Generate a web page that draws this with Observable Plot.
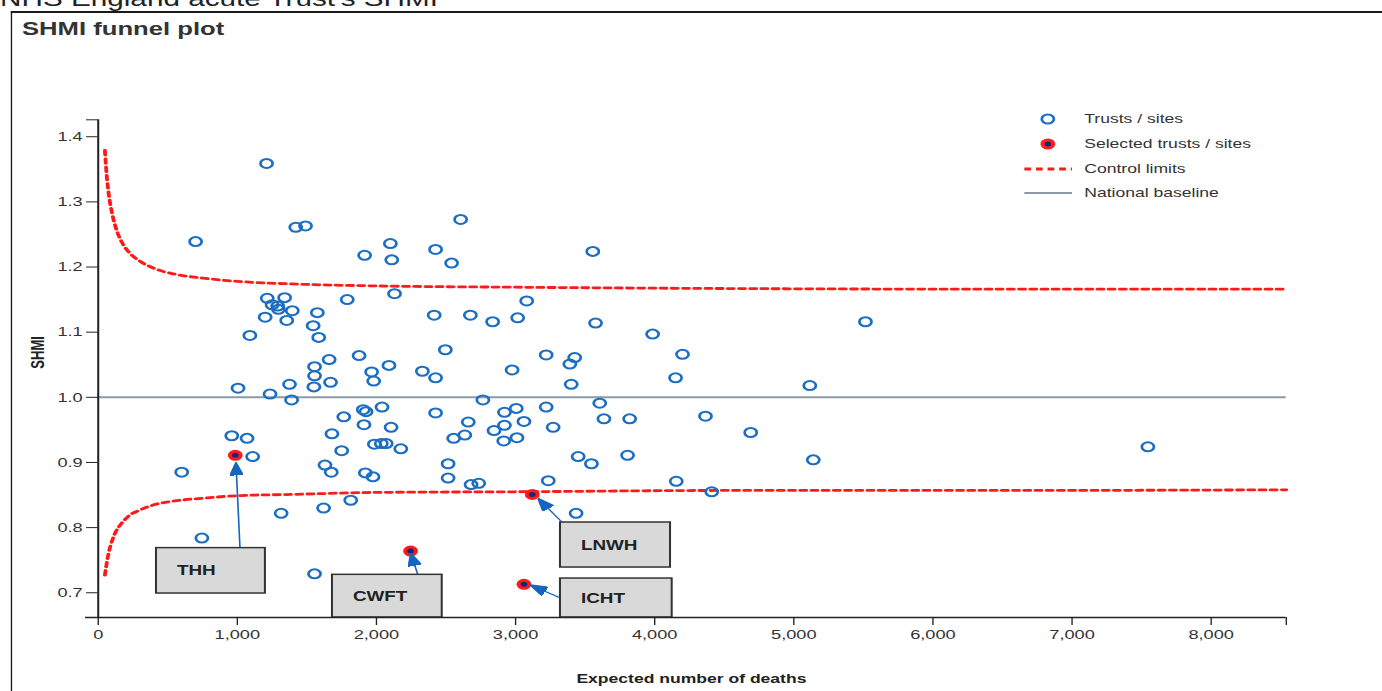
<!DOCTYPE html>
<html>
<head>
<meta charset="utf-8">
<script src="https://cdn.jsdelivr.net/npm/d3@7"></script>
<script src="https://cdn.jsdelivr.net/npm/@observablehq/plot@0.6"></script>
<style>
  html, body { margin: 0; padding: 0; background: #fff; overflow: hidden; }
  body { width: 1382px; height: 691px; position: relative; font-family: "Liberation Sans", Arial, sans-serif; }
  #page { position: absolute; left: 0; top: 0; width: 1024px; height: 691px; transform: scaleX(1.3496); transform-origin: 0 0; }
  #heading { position: absolute; left: 0; top: -12px; font-size: 22px; line-height: 22px; color: #222; white-space: nowrap; }
  #chart { position: absolute; left: 0; top: 0; }
  #frame { position: absolute; left: 8px; top: 11px; width: 1100px; height: 800px; border-top: 2px solid #1a1a1a; border-left: 1.5px solid #1a1a1a; box-sizing: border-box; }
  #title { position: absolute; left: 16.3px; top: 19px; font-size: 19px; line-height: 19px; font-weight: bold; color: #333; white-space: nowrap; }
  .lg-sym { position: absolute; left: 758.8px; width: 36px; height: 14px; overflow: visible; }
  .lg-txt { position: absolute; left: 803.4px; font-size: 13px; line-height: 14px; color: #333; white-space: nowrap; }
</style>
</head>
<body>
<div id="page">
  <div id="heading">NHS England acute Trust's SHMI</div>
  <div id="chart"></div>
  <div id="frame"></div>
  <div id="title">SHMI funnel plot</div>
  <svg class="lg-sym" style="top:112.3px" viewBox="0 0 36 14"><circle cx="17.4" cy="7" r="4.5" fill="none" stroke="#1b6ec2" stroke-width="2"/></svg>
  <div class="lg-txt" style="top:112.3px">Trusts / sites</div>
  <svg class="lg-sym" style="top:137px" viewBox="0 0 36 14"><circle cx="17.4" cy="7" r="4" fill="#14287a" stroke="#ff2020" stroke-width="3"/></svg>
  <div class="lg-txt" style="top:137px">Selected trusts / sites</div>
  <svg class="lg-sym" style="top:161.5px" viewBox="0 0 36 14"><line x1="0" x2="35.3" y1="7" y2="7" stroke="#ff1a1a" stroke-width="3" stroke-dasharray="5,3.6"/></svg>
  <div class="lg-txt" style="top:161.5px">Control limits</div>
  <svg class="lg-sym" style="top:186.3px" viewBox="0 0 36 14"><line x1="0" x2="35.3" y1="7" y2="7" stroke="#8d9aa5" stroke-width="2"/></svg>
  <div class="lg-txt" style="top:186.3px">National baseline</div>
</div>
<script>
// ---------- data ----------
const trustsE = [1210,1420,1490,700,1915,2100,2110,2425,1790,2130,2415,1215,1340,1250,1290,1295,1395,1200,1355,1575,1545,1090,1585,
  2605,2540,3555,3080,2675,2835,3015,3575,3985,
  1660,1555,1555,1550,1670,1375,1005,1235,1390,1875,1965,1980,2090,2330,2425,2495,1765,1905,1925,2040,1910,2105,1680,960,1070,
  1985,2035,2070,2175,1750,1110,1630,1675,1920,1975,600,1815,1620,1315,2425,
  3220,3425,3390,2975,3400,4200,4150,2765,2920,3005,3220,3605,2660,3060,2920,2845,3635,3820,2635,2555,3010,2915,3270,
  2515,3450,3545,3805,2515,2680,2735,3235,4155,3435,
  5515,5115,4365,4690,5140,4410,7545,745,1555];
const trustsSHMI = [1.359,1.261,1.263,1.239,1.218,1.236,1.211,1.227,1.150,1.159,1.126,1.152,1.153,1.142,1.140,1.135,1.133,1.123,1.118,1.130,1.110,1.095,1.092,
  1.273,1.206,1.224,1.148,1.126,1.116,1.122,1.114,1.097,
  1.058,1.047,1.033,1.016,1.023,1.020,1.014,1.005,0.996,1.064,1.039,1.025,1.049,1.040,1.030,1.073,0.970,0.981,0.978,0.985,0.958,0.954,0.944,0.941,0.937,
  0.928,0.929,0.929,0.921,0.918,0.909,0.896,0.885,0.884,0.878,0.885,0.842,0.830,0.822,0.976,
  1.065,1.061,1.051,1.042,1.020,1.066,1.030,0.996,0.977,0.983,0.985,0.991,0.962,0.963,0.957,0.949,0.967,0.967,0.942,0.937,0.938,0.933,0.954,
  0.898,0.909,0.898,0.911,0.876,0.866,0.868,0.872,0.871,0.822,
  1.116,1.018,0.971,0.946,0.904,0.855,0.924,0.784,0.729];

const selectedNames = ["THH", "CWFT", "LNWH", "ICHT"];
const selectedE = [985, 2245, 3120, 3060];
const selectedSHMI = [0.911, 0.764, 0.851, 0.713];

const limitE = [48, 60, 75, 100, 130, 170, 220, 300, 400, 550, 750, 1000, 1400, 2000, 3000, 4500, 6500, 8540];
const upperLimit = [1.379, 1.343, 1.313, 1.282, 1.258, 1.238, 1.223, 1.209, 1.198, 1.189, 1.183, 1.178, 1.174, 1.171, 1.169, 1.167, 1.166, 1.166];
const lowerLimit = [0.727, 0.744, 0.761, 0.780, 0.795, 0.807, 0.818, 0.827, 0.835, 0.841, 0.845, 0.849, 0.851, 0.854, 0.855, 0.857, 0.857, 0.858];

const nationalBaseline = 1.0;

const xTicks = [0, 1000, 2000, 3000, 4000, 5000, 6000, 7000, 8000];
const yTicks = [0.7, 0.8, 0.9, 1.0, 1.1, 1.2, 1.3, 1.4];
const xDomain = [-90, 8540];
const yDomain = [0.662, 1.426];

// annotation callouts (data units)
const calloutLabels = ["THH", "CWFT", "LNWH", "ICHT"];
const calloutBoxE1 = [420, 1685, 3324, 3324];
const calloutBoxE2 = [1203, 2474, 4115, 4127];
const calloutBoxS1 = [0.6988, 0.662, 0.7387, 0.662];
const calloutBoxS2 = [0.7685, 0.7275, 0.8078, 0.7218];
const arrowFromE = [1019, 2298, 3331, 3324];
const arrowFromS = [0.7685, 0.7275, 0.809, 0.692];
const arrowToE = [990, 2246, 3161, 3104];
const arrowToS = [0.900, 0.761, 0.845, 0.712];

// ---------- tables ----------
const trusts = trustsE.map((e, i) => ({e, s: trustsSHMI[i]}));
const selected = selectedE.map((e, i) => ({name: selectedNames[i], e, s: selectedSHMI[i]}));
const upper = limitE.map((e, i) => ({e, s: upperLimit[i]}));
const lower = limitE.map((e, i) => ({e, s: lowerLimit[i]}));
const callouts = calloutLabels.map((label, i) => ({
  label,
  e1: calloutBoxE1[i], e2: calloutBoxE2[i], s1: calloutBoxS1[i], s2: calloutBoxS2[i],
  sm: (calloutBoxS1[i] + calloutBoxS2[i]) / 2,
  fe: arrowFromE[i], fs: arrowFromS[i], te: arrowToE[i], ts: arrowToS[i]
}));

const BLUE = "#1b6ec2", RED = "#ff1a1a", NAVY = "#14287a", ARROW = "#1565c0", GREY = "#8d9aa5", AXIS = "#222";

function arrowHead(color, context) {
  const doc = (context && context.document) || document;
  const ns = "http://www.w3.org/2000/svg";
  const m = doc.createElementNS(ns, "marker");
  m.setAttribute("viewBox", "0 -5 13 10");
  m.setAttribute("markerWidth", "13");
  m.setAttribute("markerHeight", "10");
  m.setAttribute("refX", "13");
  m.setAttribute("refY", "0");
  m.setAttribute("orient", "auto");
  m.setAttribute("markerUnits", "userSpaceOnUse");
  const p = doc.createElementNS(ns, "path");
  p.setAttribute("d", "M0,-5L13,0L0,5Z");
  p.setAttribute("fill", color);
  m.appendChild(p);
  return m;
}

const ML = 63, MR = 71.4, W = 1024;
// shift of the y axis so that it sits on x = 0
const yAxisShift = (0 - xDomain[0]) / (xDomain[1] - xDomain[0]) * (W - ML - MR);

function build(marker) {
  return Plot.plot({
    width: W,
    height: 691,
    marginLeft: ML,
    marginRight: MR,
    marginTop: 119.3,
    marginBottom: 74,
    style: {fontFamily: "'Liberation Sans', Arial, sans-serif", fontSize: "13.5px", color: "#333", background: "transparent", overflow: "visible"},
    x: {domain: xDomain},
    y: {domain: yDomain},
    marks: [
      Plot.ruleY([nationalBaseline], {x1: 0, x2: xDomain[1], stroke: GREY, strokeWidth: 2}),
      Plot.line(upper, {x: "e", y: "s", curve: "monotone-x", stroke: RED, strokeWidth: 2.8, strokeDasharray: "4.5,3.8"}),
      Plot.line(lower, {x: "e", y: "s", curve: "monotone-x", stroke: RED, strokeWidth: 2.8, strokeDasharray: "4.5,3.8"}),
      Plot.dot(trusts, {x: "e", y: "s", r: 4.5, stroke: BLUE, strokeWidth: 2, fill: "none"}),
      Plot.dot(selected, {x: "e", y: "s", r: 4, fill: NAVY, stroke: RED, strokeWidth: 3}),
      Plot.link(callouts, {x1: "fe", y1: "fs", x2: "te", y2: "ts", stroke: ARROW, strokeWidth: 1.2, markerEnd: marker}),
      Plot.rect(callouts, {x1: "e1", x2: "e2", y1: "s1", y2: "s2", fill: "#d9d9d9", stroke: "#333", strokeWidth: 1.5}),
      Plot.text(callouts, {x: "e1", y: "sm", text: "label", textAnchor: "start", dx: 15, fontWeight: "bold", fontSize: 14, fill: "#222"}),
      // axes
      Plot.ruleY([yDomain[0]], {x1: xDomain[0], x2: xDomain[1], stroke: AXIS, strokeWidth: 1.5}),
      Plot.ruleX([0], {y1: yDomain[0], y2: yDomain[1], stroke: AXIS, strokeWidth: 1.5}),
      Plot.axisX({ticks: xTicks, tickFormat: d3.format(","), tickSize: 8, tickPadding: 4, stroke: AXIS, label: null}),
      Plot.axisX({ticks: [xDomain[1]], tickFormat: () => "", tickSize: 8, stroke: AXIS, label: null}),
      Plot.axisY({ticks: yTicks, tickFormat: d3.format(".1f"), tickSize: 8.5, tickPadding: 3, dx: yAxisShift, stroke: AXIS, label: null}),
      Plot.axisY({ticks: [yDomain[1]], tickFormat: () => "", tickSize: 8.5, dx: yAxisShift, stroke: AXIS, label: null}),
      Plot.text(["Expected number of deaths"], {frameAnchor: "bottom", dy: 61, dx: 4, lineAnchor: "middle", fontWeight: "bold", fontSize: 13, fill: "#222"}),
      Plot.text(["SHMI"], {frameAnchor: "left", dx: -35, rotate: -90, lineAnchor: "middle", fontWeight: "bold", fontSize: 13, fill: "#222"})
    ]
  });
}

let chart;
try { chart = build(arrowHead); } catch (e) { chart = build("arrow"); }
document.getElementById("chart").appendChild(chart);
</script>
</body>
</html>
